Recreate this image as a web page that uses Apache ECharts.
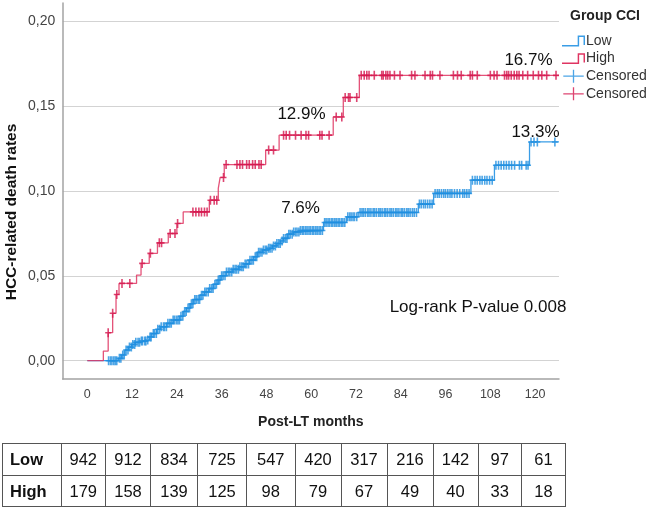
<!DOCTYPE html>
<html><head><meta charset="utf-8">
<script src="https://cdn.jsdelivr.net/npm/echarts@6/dist/echarts.min.js"></script>
<style>
html,body{margin:0;padding:0;background:#fff;}
#wrap{position:relative;width:649px;height:507px;overflow:hidden;background:#fff;}
#chart{position:absolute;left:0;top:0;width:649px;height:507px;}
#risk{position:absolute;left:2px;top:443px;border-collapse:collapse;table-layout:fixed;font-family:'Liberation Sans',Arial,sans-serif;font-size:16.5px;color:#111;}
#risk td{border:1.3px solid #555;text-align:center;padding:0;height:30.5px;line-height:30px;white-space:nowrap;}
#risk td.g{font-weight:bold;text-align:left;padding-left:7px;}
</style></head>
<body><div id="wrap"><div id="chart"></div><table id="risk"></table></div>
<script>
// ---- data ----
const xTicks = [0, 12, 24, 36, 48, 60, 72, 84, 96, 108, 120];
const yTicks = [0, 0.05, 0.10, 0.15, 0.20];

const lowTimes = [0, 8.3, 9.2, 10.1, 11.0, 11.9, 12.8, 14.1, 15.9, 16.6, 17.3, 18.6, 19.6, 21.3, 23.0, 24.8, 25.7, 26.6, 27.6, 28.4, 30.2, 31.4, 32.6, 33.8, 35.0, 35.8, 37.2, 39.0, 40.6, 42.2, 43.5, 44.6, 45.6, 47.0, 48.5, 49.6, 50.8, 51.8, 52.6, 53.7, 55.3, 57.0, 63.3, 69.5, 72.6, 88.7, 92.8, 102.8, 109.1, 118.5, 126.4];
const lowRates = [0, 0.0014, 0.0034, 0.0063, 0.0080, 0.0095, 0.0108, 0.0116, 0.0122, 0.0140, 0.0160, 0.0185, 0.0200, 0.0220, 0.0240, 0.0262, 0.0290, 0.0310, 0.0335, 0.0360, 0.0386, 0.0405, 0.0425, 0.0450, 0.0475, 0.0500, 0.0522, 0.0538, 0.0553, 0.0570, 0.0592, 0.0612, 0.0638, 0.0652, 0.0662, 0.0676, 0.0690, 0.0705, 0.0720, 0.0745, 0.0758, 0.0767, 0.0814, 0.0847, 0.0873, 0.0922, 0.0985, 0.1063, 0.1151, 0.1288, 0.1288];

const highTimes = [0, 4.3, 5.6, 6.8, 7.7, 8.5, 13.2, 14.4, 16.6, 18.8, 21.7, 24.0, 25.7, 32.7, 35.1, 35.6, 36.7, 47.8, 51.4, 65.9, 68.6, 72.9, 126.4];
const highRates = [0, 0.0057, 0.0165, 0.0279, 0.039, 0.0455, 0.0504, 0.0573, 0.0632, 0.0694, 0.0749, 0.0808, 0.0876, 0.0945, 0.1014, 0.1079, 0.1155, 0.124, 0.1328, 0.1435, 0.155, 0.168, 0.168];

const lowCensored = [5.7, 6.2, 6.6, 7.1, 7.5, 7.9, 8.6, 9.0, 9.5, 9.9, 10.4, 10.9, 11.3, 11.8, 12.2, 12.7, 13.0, 13.6, 14.0, 14.5, 14.8, 15.4, 15.7, 16.2, 16.8, 17.1, 17.7, 18.0, 18.5, 18.9, 19.4, 19.8, 20.4, 20.7, 21.2, 21.6, 22.1, 22.5, 23.0, 23.4, 23.9, 24.3, 24.7, 25.1, 25.6, 26.1, 26.5, 27.0, 27.4, 27.9, 28.3, 28.8, 29.2, 29.7, 30.1, 30.6, 31.0, 31.5, 31.9, 32.4, 32.8, 33.3, 33.7, 34.2, 34.6, 35.1, 35.5, 36.0, 36.4, 36.9, 37.3, 37.8, 38.2, 38.7, 39.1, 39.6, 40.0, 40.5, 40.9, 41.4, 41.8, 42.3, 42.7, 43.2, 43.6, 44.1, 44.5, 45.0, 45.4, 45.9, 46.3, 46.8, 47.2, 47.7, 48.1, 48.6, 49.0, 49.5, 49.9, 50.4, 50.8, 51.3, 51.7, 52.2, 52.6, 53.1, 53.5, 54.0, 54.4, 54.9, 55.3, 55.8, 56.2, 56.7, 57.1, 57.6, 58.0, 58.5, 58.9, 59.4, 59.8, 60.3, 60.7, 61.2, 61.6, 62.1, 62.5, 63.0, 63.6, 64.0, 64.5, 64.9, 65.4, 65.8, 66.3, 66.7, 67.2, 67.6, 68.1, 68.5, 69.0, 69.8, 70.3, 70.7, 71.2, 71.6, 72.2, 73.1, 73.6, 74.0, 74.5, 75.1, 75.5, 76.0, 76.6, 77.0, 77.5, 78.1, 78.5, 79.0, 79.6, 80.0, 80.5, 81.1, 81.5, 82.0, 82.6, 83.0, 83.5, 84.1, 84.5, 85.0, 85.6, 86.0, 86.5, 87.1, 87.6, 88.2, 89.0, 89.5, 90.1, 90.6, 91.2, 91.8, 92.4, 93.2, 93.8, 94.3, 94.9, 95.5, 96.0, 96.6, 97.2, 97.7, 98.4, 99.1, 99.8, 100.6, 101.1, 101.7, 102.3, 103.2, 103.9, 104.5, 105.2, 105.8, 106.5, 107.1, 107.8, 108.5, 109.5, 110.2, 110.9, 111.6, 112.3, 113.0, 113.7, 114.5, 115.8, 116.4, 117.6, 118.1, 118.9, 119.7, 120.6, 125.3];
const highCensored = [5.6, 6.8, 7.9, 9.3, 11.4, 14.7, 16.9, 19.3, 19.9, 22.2, 23.5, 24.2, 28.3, 29.1, 29.9, 30.6, 31.4, 32.1, 33.0, 34.0, 34.7, 36.5, 37.2, 40.1, 40.9, 41.6, 42.7, 43.4, 44.3, 45.0, 46.0, 46.6, 48.6, 49.9, 52.6, 53.3, 54.2, 55.8, 57.3, 58.6, 59.3, 62.3, 62.9, 64.8, 66.7, 68.2, 69.1, 70.0, 70.4, 72.2, 73.4, 74.2, 74.9, 75.5, 76.9, 78.9, 79.3, 80.0, 80.5, 81.1, 82.3, 83.8, 86.9, 87.8, 90.5, 91.9, 92.5, 94.5, 98.1, 99.2, 100.2, 102.6, 103.2, 104.5, 108.0, 109.0, 109.8, 111.8, 112.4, 112.9, 113.6, 114.4, 115.1, 115.7, 116.7, 118.0, 119.5, 120.9, 121.8, 123.1, 125.6];

const riskGroups = ['Low', 'High'];
const riskLow = [942, 912, 834, 725, 547, 420, 317, 216, 142, 97, 61];
const riskHigh = [179, 158, 139, 125, 98, 79, 67, 49, 40, 33, 18];

const annotationTexts = ['12.9%', '16.7%', '13.3%', '7.6%', 'Log-rank P-value 0.008'];

// ---- helpers ----
function stepAt(times, rates, t) {
  let v = rates[0];
  for (let i = 0; i < times.length; i++) { if (times[i] <= t) v = rates[i]; }
  return v;
}
const pairs = (a, b) => a.map((t, i) => [t, b[i]]);
const censorPts = (c, times, rates) => c.map(t => [t, stepAt(times, rates, t)]);

const BLUE_LINE = '#3a9de6', BLUE_MARK = '#1f8fe0';
const RED_LINE = '#df3562', RED_MARK = '#d4174d';
const FONT = "'Liberation Sans', Arial, sans-serif";
const plusPath = 'path://M2.2,0 H3.8 V3.7 H6 V5.3 H3.8 V9 H2.2 V5.3 H0 V3.7 H2.2 Z';
const stepIcon = 'path://M0,9 H15 V0 H22 V9 H20.6 V1.4 H16.4 V10.4 H0 Z';
const plusIcon = 'path://M10.3,0 H11.7 V6.3 H22 V7.7 H11.7 V14 H10.3 V7.7 H0 V6.3 H10.3 Z';
const annoFont = "17px 'Liberation Sans', Arial, sans-serif";

const chart = echarts.init(document.getElementById('chart'), null, {renderer: 'canvas'});
chart.setOption({
  animation: false,
  backgroundColor: '#fff',
  grid: {left: 62.7, right: 90, top: 3, bottom: 128},
  title: {text: 'Group CCI', left: 565, top: 4, textStyle: {fontFamily: FONT, fontSize: 14, fontWeight: 'bold', color: '#222'}},
  legend: {
    orient: 'vertical', left: 557, top: 29, itemWidth: 23, itemHeight: 13, itemGap: 3.6,
    textStyle: {fontFamily: FONT, fontSize: 14, color: '#333', padding: [0, 0, 0, -4]},
    data: [
      {name: 'Low', icon: stepIcon},
      {name: 'High', icon: stepIcon},
      {name: 'Censored', icon: plusIcon},
      {name: 'Censored ', icon: plusIcon}
    ]
  },
  xAxis: {
    type: 'value', min: -6.59, max: 126.4,
    axisLine: {show: true, onZero: false, lineStyle: {color: '#a3a3a3', width: 1.5}},
    axisTick: {show: false, customValues: xTicks},
    splitLine: {show: false},
    axisLabel: {customValues: xTicks, fontFamily: FONT, fontSize: 12.5, color: '#444', margin: 9},
    name: 'Post-LT months', nameLocation: 'middle', nameGap: 36,
    nameTextStyle: {fontFamily: FONT, fontSize: 14, fontWeight: 'bold', color: '#222'}
  },
  yAxis: {
    type: 'value', min: -0.01077, max: 0.2106,
    axisLine: {show: true, onZero: false, lineStyle: {color: '#a3a3a3', width: 1.5}},
    axisTick: {show: false, customValues: yTicks},
    splitLine: {show: true, lineStyle: {color: '#d3d3d3', width: 1.2}},
    axisLabel: {customValues: yTicks, fontFamily: FONT, fontSize: 14, color: '#444', margin: 7.5,
      formatter: v => v.toFixed(2).replace('.', ',')}
  },
  graphic: [
    {type: 'text', x: 12, y: 212, rotation: Math.PI / 2,
     style: {text: 'HCC-related death rates', font: "bold 15.5px 'Liberation Sans', Arial, sans-serif", fill: '#111', align: 'center', verticalAlign: 'middle'}},
    {type: 'text', x: 301.5, y: 114, style: {text: annotationTexts[0], font: annoFont, fill: '#111', align: 'center', verticalAlign: 'middle'}},
    {type: 'text', x: 528.5, y: 60, style: {text: annotationTexts[1], font: annoFont, fill: '#111', align: 'center', verticalAlign: 'middle'}},
    {type: 'text', x: 535.5, y: 132, style: {text: annotationTexts[2], font: annoFont, fill: '#111', align: 'center', verticalAlign: 'middle'}},
    {type: 'text', x: 300.5, y: 208, style: {text: annotationTexts[3], font: annoFont, fill: '#111', align: 'center', verticalAlign: 'middle'}},
    {type: 'text', x: 478, y: 307, style: {text: annotationTexts[4], font: annoFont, fill: '#111', align: 'center', verticalAlign: 'middle'}}
  ],
  series: [
    {name: 'Low', type: 'line', step: 'end', showSymbol: false, color: BLUE_LINE,
     lineStyle: {color: BLUE_LINE, width: 1.3}, data: pairs(lowTimes, lowRates), z: 2},
    {name: 'High', type: 'line', step: 'end', showSymbol: false, color: RED_LINE,
     lineStyle: {color: RED_LINE, width: 1.3, opacity: 0.85}, data: pairs(highTimes, highRates), z: 3},
    {name: 'Censored', type: 'scatter', symbol: plusPath, symbolSize: [6, 9], color: BLUE_MARK,
     itemStyle: {color: BLUE_MARK}, data: censorPts(lowCensored, lowTimes, lowRates), z: 4},
    {name: 'Censored ', type: 'scatter', symbol: plusPath, symbolSize: [6, 9], color: RED_MARK,
     itemStyle: {color: RED_MARK}, data: censorPts(highCensored, highTimes, highRates), z: 5}
  ]
});

// ---- risk table ----
const colEdges = [0, 58.5, 103, 148, 195, 244, 292.5, 338.5, 384.5, 430.5, 475.5, 519, 563];
const table = document.getElementById('risk');
const cg = document.createElement('colgroup');
for (let i = 0; i < colEdges.length - 1; i++) {
  const c = document.createElement('col'); c.style.width = (colEdges[i + 1] - colEdges[i]) + 'px'; cg.appendChild(c);
}
table.appendChild(cg);
table.style.width = colEdges[colEdges.length - 1] + 'px';
[riskLow, riskHigh].forEach((row, r) => {
  const tr = document.createElement('tr');
  const th = document.createElement('td'); th.className = 'g'; th.textContent = riskGroups[r]; tr.appendChild(th);
  row.forEach(v => { const td = document.createElement('td'); td.textContent = v; tr.appendChild(td); });
  table.appendChild(tr);
});
</script></body></html>
